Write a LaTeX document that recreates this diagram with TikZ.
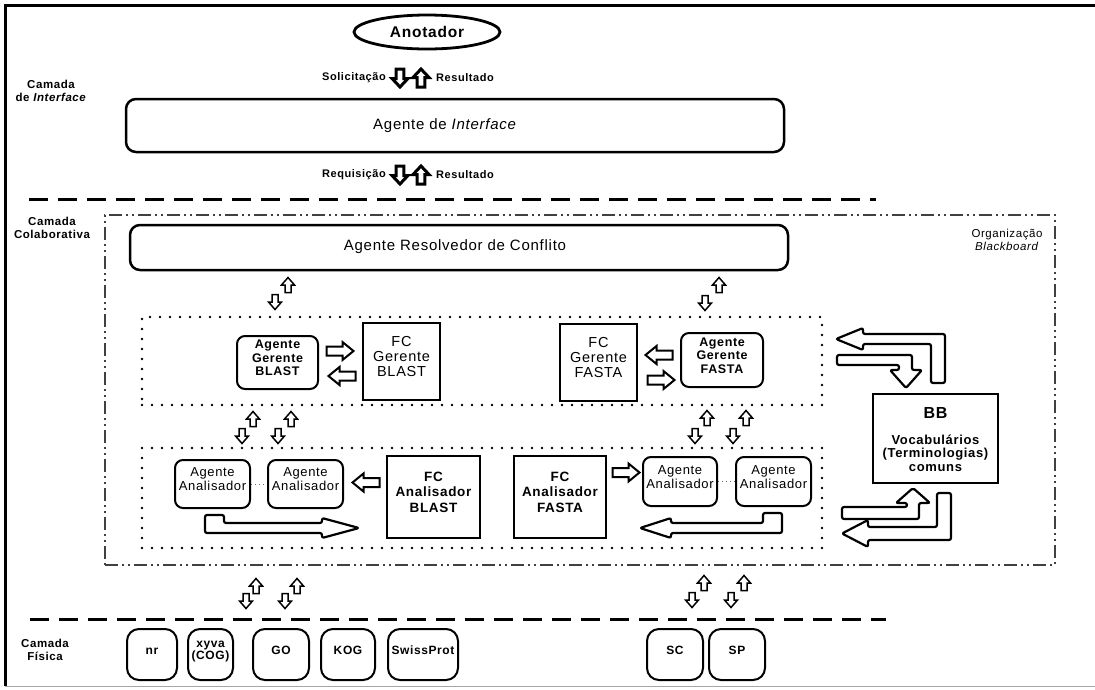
\documentclass[tikz,border=0pt]{standalone}
\usepackage{fontspec}
\setmainfont{Liberation Sans}[LetterSpace=5]
\usetikzlibrary{shapes.geometric,fit}
\begin{document}
\begin{tikzpicture}[x=1pt,y=-1pt,
  lbl/.style={inner sep=0pt, align=center},
  rowtxt/.style={lbl, font=\bfseries\fontsize{11}{13}\selectfont},
  laytxt/.style={lbl, font=\bfseries\fontsize{11.5}{13}\selectfont},
  rbox/.style={draw, line width=2pt, rounded corners=8pt, inner sep=0pt, align=center},
  sbox/.style={draw, line width=2.2pt, inner sep=0pt, align=center},
  agtxt/.style={font=\bfseries\fontsize{12.5}{13.5}\selectfont},
  aatxt/.style={font=\fontsize{13}{14}\selectfont},
  fcgtxt/.style={font=\fontsize{14.5}{15}\selectfont},
  fcatxt/.style={font=\bfseries\fontsize{13.5}{15.5}\selectfont},
  dbtxt/.style={font=\bfseries\fontsize{12}{12.5}\selectfont},
  dbbox/.style={rbox, rounded corners=12pt, dbtxt},
  dotbox/.style={draw, line width=2.6pt, line cap=round, dash pattern=on 0pt off 10pt, inner sep=0pt},
  ddbox/.style={draw, line width=1.6pt, draw=black!75, dash pattern=on 13pt off 4pt on 2pt off 4pt on 2pt off 4pt, inner sep=0pt},
  layer/.style={line width=3pt, dash pattern=on 19pt off 10pt},
  bigarr/.style={draw, line width=2.2pt, fill=white, rounded corners=2pt, line join=round},
  pics/sarr/.style={code={\draw[line width=1.5pt, fill=white, line join=miter]
      (-7.5,-3)--(0,-3)--(0,-6.5)--(7.5,0)--(0,6.5)--(0,3)--(-7.5,3)--cycle;}},
  pics/harr/.style={code={\draw[line width=2pt, fill=white, line join=miter]
      (-13.5,-4.5)--(2.5,-4.5)--(2.5,-9)--(13.5,0)--(2.5,9)--(2.5,4.5)--(-13.5,4.5)--cycle;}},
  pics/barr/.style={code={\draw[line width=3pt, fill=white, line join=miter]
      (-9,-3.8)--(0.5,-3.8)--(0.5,-8)--(9,0)--(0.5,8)--(0.5,3.8)--(-9,3.8)--cycle;}},
]
% canvas and frame
\fill[white] (0,0) rectangle (1095,689);
\useasboundingbox (0,0) rectangle (1095,689);
\draw[line width=3pt] (5,686) -- (5,5) -- (1095,5);
\draw[line width=1pt, black!35] (5,686) -- (1095,686);

% ---------- interface layer ----------
\node[draw, ellipse, line width=2.8pt, minimum width=146pt, minimum height=34pt, inner sep=0pt,
      font=\bfseries\fontsize{15.5}{17}\selectfont] (anot) at (427,32) {Anotador};

\node[rowtxt, anchor=east] (sol) at (386,78) {Solicitação};
\path (400,78) pic[rotate=-90] {barr};
\path (421,78) pic[rotate=90] {barr};
\node[rowtxt, anchor=west] (res1) at (436,78) {Resultado};

\node[laytxt] (ci) at (51,91) {Camada\\de \textit{Interface}};

\node[rbox, line width=2.5pt, rounded corners=10pt, fit={(126,99)(784,152)}] (ai) {};
\node[lbl, font=\fontsize{15}{17}\selectfont] (ait) at (445,126) {Agente de \textit{Interface}};

\node[rowtxt, anchor=east] (req) at (386,175) {Requisição};
\path (400,175) pic[rotate=-90] {barr};
\path (421,175) pic[rotate=90] {barr};
\node[rowtxt, anchor=west] (res2) at (436,175) {Resultado};

\draw[layer] (29,199) -- (876,199);

% ---------- collaborative layer ----------
\node[laytxt] (cc) at (52,228) {Camada\\Colaborativa};
\node[ddbox, fit={(105,215)(1055,565)}] (bbo) {};
\node[lbl, anchor=north, font=\fontsize{11.5}{13}\selectfont] (org) at (1007,229) {Organização\\\textit{Blackboard}};

\node[rbox, line width=2.5pt, rounded corners=10pt, fit={(130,225)(788,270)}] (arc) {};
\node[lbl, font=\fontsize{15}{17}\selectfont] (arct) at (455,247) {Agente Resolvedor de Conflito};

\path (288,285) pic[rotate=90] {sarr};
\path (275,302) pic[rotate=-90] {sarr};
\path (719,285) pic[rotate=90] {sarr};
\path (705,303) pic[rotate=-90] {sarr};

% manager group
\node[dotbox, fit={(142,317)(822,405)}] (mgr) {};
\node[rbox, agtxt, fit={(237,336)(318,389)}] (agb) {Agente\\Gerente\\BLAST};
\node[sbox, fcgtxt, fit={(363,323)(440,400)}] (fcgb) {FC\\Gerente\\BLAST};
\path (340,351) pic {harr};
\path (342,376) pic[rotate=180] {harr};
\node[sbox, fcgtxt, fit={(560,324)(637,401)}] (fcgf) {FC\\Gerente\\FASTA};
\path (659,355) pic[rotate=180] {harr};
\path (661,380) pic {harr};
\node[rbox, agtxt, fit={(681,333)(763,387)}] (agf) {Agente\\Gerente\\FASTA};

\path (253,419) pic[rotate=90] {sarr};
\path (242,436) pic[rotate=-90] {sarr};
\path (291,419) pic[rotate=90] {sarr};
\path (278,436) pic[rotate=-90] {sarr};
\path (707,418) pic[rotate=90] {sarr};
\path (695,436) pic[rotate=-90] {sarr};
\path (746,418) pic[rotate=90] {sarr};
\path (733,436) pic[rotate=-90] {sarr};

% analyser group
\node[dotbox, fit={(142,448)(822,548)}] (ana) {};
\node[rbox, aatxt, fit={(175,460)(250,508)}] (aa1) {Agente\\Analisador};
\node[rbox, aatxt, fit={(268,460)(343,508)}] (aa2) {Agente\\Analisador};
\draw[line width=1pt, black!60, dash pattern=on 1pt off 3pt] (aa1.east) -- (aa2.west);
\path (366,482.5) pic[rotate=180] {harr};
\node[sbox, fcatxt, fit={(387,456)(480,538)}] (fcab) {FC\\Analisador\\BLAST};
\node[sbox, fcatxt, fit={(514,456)(606,538)}] (fcaf) {FC\\Analisador\\FASTA};
\path (626,472.5) pic {harr};
\node[rbox, aatxt, fit={(643,457)(717,506)}] (aa3) {Agente\\Analisador};
\node[rbox, aatxt, fit={(736,457)(811,506)}] (aa4) {Agente\\Analisador};
\draw[line width=1pt, black!60, dash pattern=on 1pt off 3pt] (aa3.east) -- (aa4.west);

\draw[bigarr] (205,515) -- (224,515) -- (224,523) -- (322,523) -- (322,518) -- (359,528)
  -- (322,538) -- (322,533) -- (205,533) -- cycle;
\draw[bigarr] (782,513) -- (763,513) -- (763,523) -- (671,523) -- (671,518) -- (640,528)
  -- (671,538) -- (671,533) -- (782,533) -- cycle;

% blackboard
\node[sbox, fit={(873,394)(998,483)}] (bb) {};
\node[lbl, font=\bfseries\fontsize{16}{18}\selectfont] (bbt) at (935.5,413) {BB};
\node[lbl, font=\bfseries\fontsize{13}{13.5}\selectfont] (bbv) at (935.5,453) {Vocabulários\\(Terminologias)\\comuns};

\draw[bigarr] (836,339) -- (863,328) -- (863,334) -- (945,334) -- (945,383) -- (931,383)
  -- (931,344) -- (863,344) -- (863,350) -- cycle;
\draw[bigarr] (837,355) -- (912,355) -- (912,370) -- (922,370) -- (906,388) -- (890,370)
  -- (899,370) -- (899,365) -- (837,365) -- cycle;
\draw[bigarr] (842,507) -- (907,507) -- (907,503) -- (896,503) -- (913,488) -- (930,503)
  -- (919,503) -- (919,519) -- (842,519) -- cycle;
\draw[bigarr] (842,533.5) -- (868,520) -- (868,527) -- (937,527) -- (937,493) -- (951,493)
  -- (951,540) -- (868,540) -- (868,547) -- cycle;

% ---------- physical layer ----------
\path (256,586) pic[rotate=90] {sarr};
\path (246,601) pic[rotate=-90] {sarr};
\path (297,586) pic[rotate=90] {sarr};
\path (285,601) pic[rotate=-90] {sarr};
\path (704,583) pic[rotate=90] {sarr};
\path (692,600) pic[rotate=-90] {sarr};
\path (744,583) pic[rotate=90] {sarr};
\path (731,600) pic[rotate=-90] {sarr};

\draw[layer] (30,619) -- (886,619);
\node[laytxt] (cf) at (45,650) {Camada\\Física};

\node[dbbox, fit={(127,629)(177,680)}] (nr) {nr};
\node[dbbox, fit={(188,629)(233,680)}] (xyva) {xyva\\(COG)};
\node[dbbox, fit={(253,629)(309,680)}] (go) {GO};
\node[dbbox, fit={(321,629)(375,680)}] (kog) {KOG};
\node[dbbox, fit={(388,629)(458,680)}] (swp) {SwissProt};
\node[dbbox, fit={(647,629)(703,680)}] (sc) {SC};
\node[dbbox, fit={(709,629)(765,680)}] (sp) {SP};
\end{tikzpicture}
\end{document}
